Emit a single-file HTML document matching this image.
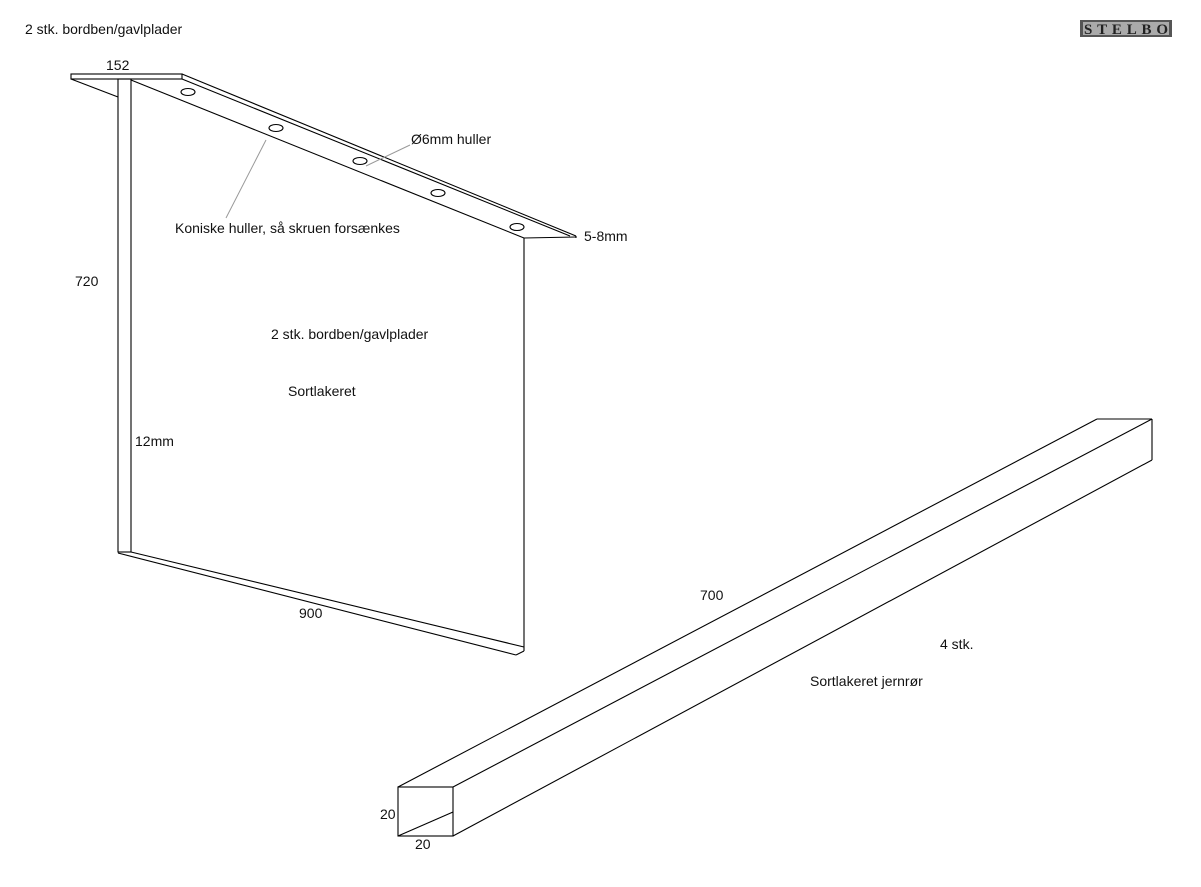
<!DOCTYPE html>
<html><head><style>
body{margin:0;background:#fff;width:1201px;height:882px;overflow:hidden}
svg text{font-family:"Liberation Sans",sans-serif;font-size:14px;fill:#111}
</style></head><body>
<svg width="1201" height="882" viewBox="0 0 1201 882" xmlns="http://www.w3.org/2000/svg">
<g stroke="#000" stroke-width="1.1" fill="none">
<rect x="71" y="74" width="111" height="5"/>
<line x1="71" y1="79" x2="118" y2="97"/>
<rect x="118" y="79" width="13" height="473"/>
<line x1="131" y1="80" x2="524" y2="238"/>
<line x1="182" y1="74" x2="576" y2="236"/>
<line x1="182" y1="79" x2="570" y2="236"/>
<line x1="524" y1="238" x2="576" y2="237"/>
<line x1="576" y1="236" x2="576" y2="238"/>
<line x1="524" y1="238" x2="524" y2="651"/>
<line x1="131" y1="552" x2="524" y2="647"/>
<line x1="118" y1="553" x2="516" y2="655"/>
<line x1="516" y1="655" x2="524" y2="651"/>
<ellipse cx="188" cy="92" rx="7" ry="3.5"/>
<ellipse cx="276" cy="128" rx="7" ry="3.5"/>
<ellipse cx="360" cy="161" rx="7" ry="3.5"/>
<ellipse cx="438" cy="193" rx="7" ry="3.5"/>
<ellipse cx="517" cy="227" rx="7" ry="3.5"/>
<rect x="398" y="787" width="55" height="49"/>
<line x1="398" y1="836" x2="453" y2="812"/>
<line x1="398" y1="787" x2="1097" y2="419"/>
<line x1="453" y1="787" x2="1152" y2="419"/>
<line x1="1097" y1="419" x2="1152" y2="419"/>
<line x1="1152" y1="419" x2="1152" y2="460"/>
<line x1="453" y1="836" x2="1152" y2="460"/>
</g>
<g stroke="#999" stroke-width="1">
<line x1="266" y1="140" x2="226" y2="218"/>
<line x1="410" y1="145" x2="366" y2="166"/>
</g>
<text x="25" y="34">2 stk. bordben/gavlplader</text>
<text x="106" y="70">152</text>
<text x="411" y="144">Ø6mm huller</text>
<text x="175" y="233">Koniske huller, så skruen forsænkes</text>
<text x="584" y="241">5-8mm</text>
<text x="75" y="286">720</text>
<text x="271" y="339">2 stk. bordben/gavlplader</text>
<text x="288" y="396">Sortlakeret</text>
<text x="135" y="446">12mm</text>
<text x="299" y="618">900</text>
<text x="700" y="600">700</text>
<text x="940" y="649">4 stk.</text>
<text x="810" y="686">Sortlakeret jernrør</text>
<text x="380" y="819">20</text>
<text x="415" y="849">20</text>
<rect x="1080" y="20" width="92" height="17" fill="#555"/>
<rect x="1083" y="22" width="86" height="13" fill="#aaa"/>
<text x="1084" y="34" textLength="84" style="font-family:'Liberation Serif',serif;font-weight:bold;font-size:15px;fill:#222">STELBO</text>
</svg>
</body></html>
